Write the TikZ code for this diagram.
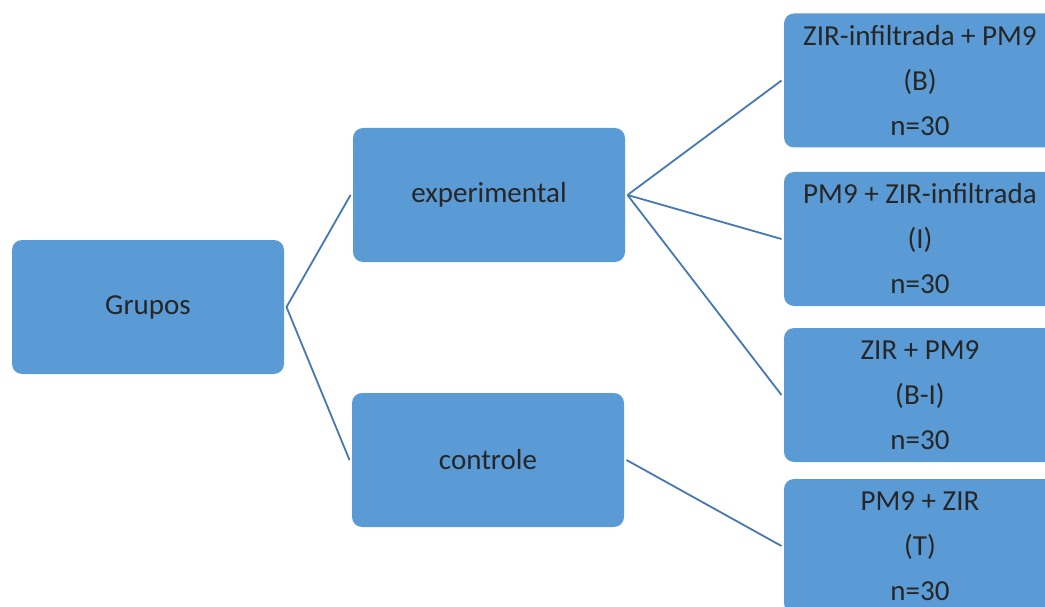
\documentclass[tikz,border=0pt]{standalone}
\usepackage{fontspec}
\setmainfont{Carlito}
\definecolor{boxblue}{HTML}{5B9BD5}
\definecolor{linkblue}{HTML}{4678B2}
\definecolor{inkgray}{HTML}{262626}
\tikzset{
  grupo/.style={shape=rectangle, rounded corners=10pt, fill=boxblue, text=inkgray,
    minimum width=272pt, minimum height=134pt, inner sep=0pt, outer sep=2.5pt,
    align=center, font=\fontsize{29}{45}\selectfont},
  link/.style={-, line width=1.8pt, draw=linkblue}
}
\begin{document}
\begin{tikzpicture}[x=1pt, y=-1pt]
\useasboundingbox (0,0) rectangle (1045,607);
\clip (0,0) rectangle (1045,607);
\node[grupo] (G) at (148,307) {Grupos};
\node[grupo] (E) at (489,195) {experimental};
\node[grupo] (C) at (488,460) {controle};
\node[grupo] (B) at (920,80.5) {ZIR-infiltrada + PM9\\(B)\\n=30};
\node[grupo] (I) at (920,239) {PM9 + ZIR-infiltrada\\(I)\\n=30};
\node[grupo] (BI) at (920,395) {ZIR + PM9\\(B-I)\\n=30};
\node[grupo] (T) at (920,546) {PM9 + ZIR\\(T)\\n=30};
\path [link] (G.east) edge (E.west);
\path [link] (G.east) edge (C.west);
\path [link] (E.east) edge (B.west);
\path [link] (E.east) edge (I.west);
\path [link] (E.east) edge (BI.west);
\path [link] (C.east) edge (T.west);
\end{tikzpicture}
\end{document}
